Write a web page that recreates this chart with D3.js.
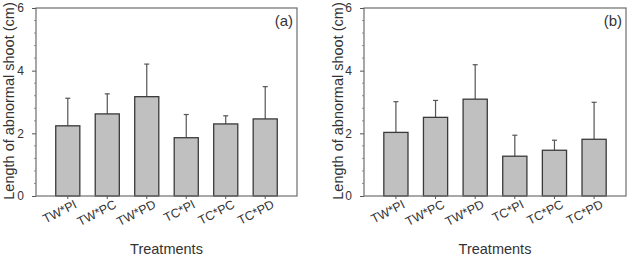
<!DOCTYPE html>
<html>
<head>
<meta charset="utf-8">
<script src="https://cdn.jsdelivr.net/npm/d3@7"></script>
<style>
  body { margin: 0; background: #fff; }
  text { font-family: "Liberation Sans", Arial, sans-serif; fill: #333; }
</style>
</head>
<body>
<div id="chart"></div>
<script>
const treatments = ["TW*PI", "TW*PC", "TW*PD", "TC*PI", "TC*PC", "TC*PD"];
const meansA = [2.24, 2.62, 3.17, 1.86, 2.30, 2.46];
const errA = [0.88, 0.64, 1.04, 0.74, 0.26, 1.03];
const meansB = [2.03, 2.51, 3.09, 1.27, 1.46, 1.81];
const errB = [0.98, 0.54, 1.10, 0.67, 0.32, 1.18];
const yTicks = [0, 2, 4, 6];
const yMinor = d3.range(0, 6.01, 0.4);

const width = 629, height = 261;
const svg = d3.select("#chart").append("svg")
    .attr("width", width)
    .attr("height", height);

function drawPanel(left, right, means, errs, tag, labelX){
    const top = 8, bottom = 196;

    const x = d3.scaleBand()
        .domain(treatments)
        .range([left, right])
        .paddingInner(0.39)
        .paddingOuter(0.5);

    const y = d3.scaleLinear()
        .domain([0, 6])
        .range([bottom, top]);

    const rows = treatments.map((t, i) => ({t: t, m: means[i], e: errs[i]}));
    const g = svg.append("g");

    // error bars (upper only)
    g.selectAll(".err")
        .data(rows)
        .enter()
        .append("line")
        .attr("x1", d => x(d.t) + x.bandwidth()/2)
        .attr("x2", d => x(d.t) + x.bandwidth()/2)
        .attr("y1", d => y(d.m))
        .attr("y2", d => y(d.m + d.e))
        .attr("stroke", "#555")
        .attr("stroke-width", 1.2);

    g.selectAll(".cap")
        .data(rows)
        .enter()
        .append("line")
        .attr("x1", d => x(d.t) + x.bandwidth()/2 - 2.5)
        .attr("x2", d => x(d.t) + x.bandwidth()/2 + 2.5)
        .attr("y1", d => y(d.m + d.e))
        .attr("y2", d => y(d.m + d.e))
        .attr("stroke", "#555")
        .attr("stroke-width", 1.2);

    g.selectAll("rect.bar")
        .data(rows)
        .enter()
        .append("rect")
        .attr("class", "bar")
        .attr("x", d => x(d.t))
        .attr("width", x.bandwidth())
        .attr("y", d => y(d.m))
        .attr("height", d => y(0) - y(d.m))
        .attr("fill", "#c0c0c0")
        .attr("stroke", "#3a3a3a")
        .attr("stroke-width", 1.3);

    // frame
    g.append("rect")
        .attr("x", left)
        .attr("y", top)
        .attr("width", right - left)
        .attr("height", bottom - top)
        .attr("fill", "none")
        .attr("stroke", "#6e6e6e")
        .attr("stroke-width", 1.2);

    // y axis
    const ya = g.append("g")
        .attr("transform", `translate(${left},0)`)
        .call(d3.axisLeft(y).tickValues(yTicks).tickSize(4).tickPadding(8).tickFormat(d3.format("d")));
    ya.select(".domain").remove();
    ya.selectAll("line").attr("stroke", "#555");
    ya.selectAll("text").style("font-size", "12px").style("fill", "#333");

    g.selectAll(".minor")
        .data(yMinor.filter(v => !yTicks.some(t => Math.abs(t - v) < 1e-6)))
        .enter()
        .append("line")
        .attr("x1", left - 2)
        .attr("x2", left)
        .attr("y1", d => y(d))
        .attr("y2", d => y(d))
        .attr("stroke", "#777")
        .attr("stroke-width", 0.8);

    // x axis
    const xa = g.append("g")
        .attr("transform", `translate(0,${bottom})`)
        .call(d3.axisBottom(x).tickSize(3).tickPadding(4));
    xa.select(".domain").remove();
    xa.selectAll("line").attr("stroke", "#555");
    xa.selectAll("text")
        .style("font-size", "12.5px")
        .style("fill", "#333")
        .attr("text-anchor", "end")
        .attr("dy", "0.6em")
        .attr("dx", "0.3em")
        .attr("transform", "rotate(-27)");

    g.append("text")
        .attr("x", (left + right)/2)
        .attr("y", 254)
        .attr("text-anchor", "middle")
        .style("font-size", "14.5px")
        .text("Treatments");

    g.append("text")
        .attr("transform", "rotate(-90)")
        .attr("x", -101)
        .attr("y", labelX)
        .attr("text-anchor", "middle")
        .style("font-size", "14.5px")
        .text("Length of abnormal shoot (cm)");

    g.append("text")
        .attr("x", right - 4)
        .attr("y", 26)
        .attr("text-anchor", "end")
        .style("font-size", "15px")
        .text(tag);
}

drawPanel(36, 297, meansA, errA, "(a)", 14);
drawPanel(364, 626, meansB, errB, "(b)", 343);
</script>
</body>
</html>
